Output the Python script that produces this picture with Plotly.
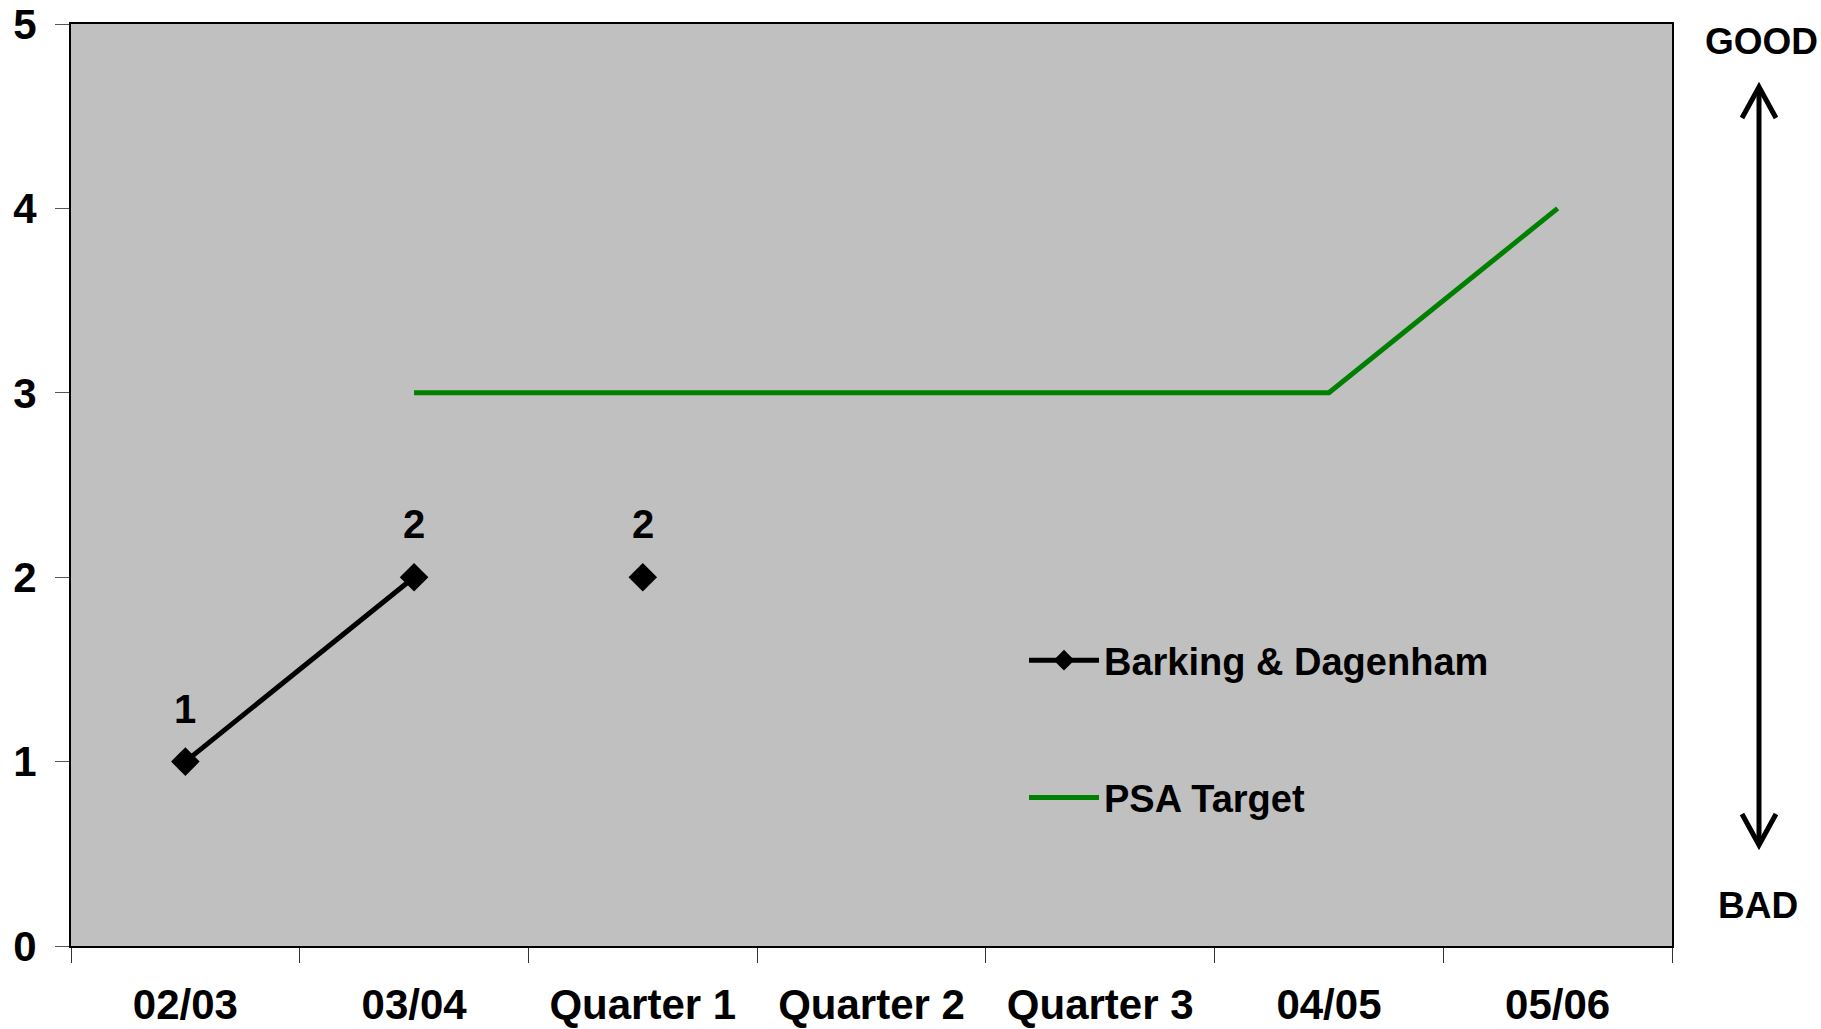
import plotly.graph_objects as go

categories = ["02/03", "03/04", "Quarter 1", "Quarter 2", "Quarter 3", "04/05", "05/06"]
bd_values = [1, 2, None, None, None, None, None]
bd_q1_values = [None, None, 2, None, None, None, None]
psa_values = [None, 3, 3, 3, 3, 3, 4]
y_ticks = [0, 1, 2, 3, 4, 5]

FONT = "Liberation Sans, Arial, sans-serif"
TICK_FS = 42
LABEL_FS = 40
LEGEND_FS = 38
SIDE_FS = 37

W, H = 1821, 1029
ML, MR, MT, MB = 71, 149, 24, 83
PW, PH = W - ML - MR, H - MT - MB

def px_x(x):
    return (x - ML) / PW

def px_y(y):
    return (H - MB - y) / PH

fig = go.Figure()

fig.add_trace(go.Scatter(
    x=categories, y=bd_values, name="Barking & Dagenham",
    mode="lines+markers",
    line=dict(color="black", width=5),
    marker=dict(symbol="diamond", size=22, color="black"),
    legendgroup="a", connectgaps=False,
))
fig.add_trace(go.Scatter(
    x=categories, y=bd_q1_values, name="Barking & Dagenham",
    mode="markers",
    marker=dict(symbol="diamond", size=22, color="black"),
    showlegend=False, legendgroup="a",
))
fig.add_trace(go.Scatter(
    x=categories, y=psa_values, name="PSA Target",
    mode="lines",
    line=dict(color="#008000", width=5),
    legendgroup="b",
))

# data labels
for series in (bd_values, bd_q1_values):
    for c, v in zip(categories, series):
        if v is None:
            continue
        fig.add_annotation(x=c, y=v, text=f"<b>{v}</b>", showarrow=False,
                           yshift=53, xanchor="center", yanchor="middle",
                           font=dict(family=FONT, size=LABEL_FS, color="black"))

# GOOD / BAD arrow (decoration, outside the plot area)
ax = px_x(1759)
top_tip = px_y(87)
bot_tip = px_y(845)
fig.add_shape(type="line", xref="paper", yref="paper",
              x0=ax, x1=ax, y0=bot_tip, y1=top_tip,
              line=dict(color="black", width=5))
dx = 17 / PW
dy = 31 / PH
fig.add_shape(type="path", xref="paper", yref="paper",
              path=f"M {ax-dx} {top_tip-dy} L {ax} {top_tip} L {ax+dx} {top_tip-dy}",
              line=dict(color="black", width=5))
fig.add_shape(type="path", xref="paper", yref="paper",
              path=f"M {ax-dx} {bot_tip+dy} L {ax} {bot_tip} L {ax+dx} {bot_tip+dy}",
              line=dict(color="black", width=5))
fig.add_annotation(text="<b>GOOD</b>", xref="paper", yref="paper",
                   x=px_x(1761), y=px_y(42), showarrow=False,
                   font=dict(family=FONT, size=SIDE_FS, color="black"),
                   xanchor="center", yanchor="middle")
fig.add_annotation(text="<b>BAD</b>", xref="paper", yref="paper",
                   x=px_x(1758), y=px_y(905), showarrow=False,
                   font=dict(family=FONT, size=SIDE_FS, color="black"),
                   xanchor="center", yanchor="middle")

fig.update_layout(
    width=W, height=H,
    margin=dict(l=ML, r=MR, t=MT, b=MB, autoexpand=False),
    paper_bgcolor="white",
    plot_bgcolor="#C0C0C0",
    font=dict(family=FONT, size=TICK_FS, color="black", weight="bold"),
    showlegend=True,
    legend=dict(
        x=px_x(1024), y=px_y(629), xanchor="left", yanchor="top",
        bgcolor="rgba(0,0,0,0)",
        font=dict(family=FONT, size=LEGEND_FS, color="black", weight="bold"),
        tracegroupgap=85, traceorder="grouped",
        itemwidth=70,
    ),
)
fig.update_xaxes(
    type="category", categoryorder="array", categoryarray=categories,
    range=[-0.5, len(categories) - 0.5],
    showgrid=False, zeroline=False,
    showline=True, linecolor="black", linewidth=2, mirror=True,
    ticks="outside", tickson="boundaries", ticklen=15, tickcolor="#333333", tickwidth=1,
    ticklabelstandoff=21,
    tickfont=dict(family=FONT, size=TICK_FS, color="black", weight="bold"),
)
fig.update_yaxes(
    range=[0, 5], tickvals=y_ticks, ticktext=[str(v) for v in y_ticks],
    showgrid=False, zeroline=False,
    showline=True, linecolor="black", linewidth=2, mirror=True,
    ticks="outside", ticklen=14, tickcolor="#555555", tickwidth=1,
    ticklabelstandoff=10,
    tickfont=dict(family=FONT, size=TICK_FS, color="black", weight="bold"),
)

fig.write_html(
    "out.html",
    config={"displayModeBar": False},
    post_script="document.body.style.margin='0';document.body.style.overflow='hidden';",
)
